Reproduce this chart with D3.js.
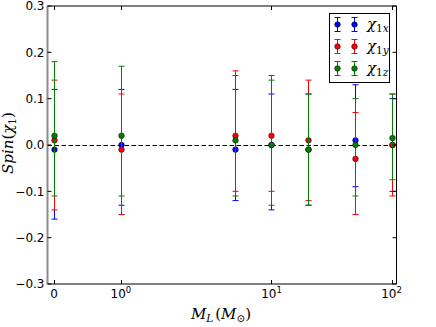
<!DOCTYPE html>
<html>
<head>
<meta charset="utf-8">
</head>
<body>

<script src="https://cdn.jsdelivr.net/npm/d3@7/dist/d3.min.js" charset="utf-8"></script>
<style>
  body {
    margin: 0;
    background: #fff;
    font-family: "DejaVu Sans", sans-serif;
  }

  .tick-label {
    font-size: 12px;
    fill: #000;
  }

  .math {
    font-family: "DejaVu Serif", serif;
    font-size: 15px;
    fill: #000;
  }

</style>

<script>
  // data
  var masses = [0, 1, 5, 10, 20, 50, 100];

  var chi1x   = [-0.01, 0.00, -0.01, 0.00, -0.01, 0.01, 0.00];
  var chi1xLo = [-0.16, -0.13, -0.12, -0.14, -0.13, -0.09, -0.10];
  var chi1xHi = [0.12, 0.12, 0.12, 0.11, 0.11, 0.13, 0.10];

  var chi1y   = [0.01, -0.01, 0.02, 0.02, 0.01, -0.03, 0.00];
  var chi1yLo = [-0.14, -0.15, -0.10, -0.10, -0.12, -0.15, -0.11];
  var chi1yHi = [0.14, 0.11, 0.16, 0.15, 0.14, 0.07, 0.11];

  var chi1z   = [0.02, 0.02, 0.01, 0.00, -0.01, 0.00, 0.015];
  var chi1zLo = [-0.11, -0.11, -0.11, -0.13, -0.13, -0.11, -0.075];
  var chi1zHi = [0.18, 0.17, 0.15, 0.14, 0.11, 0.10, 0.11];

  var xTicks = [0, 1, 10, 100];
  var xTickExp = ["", "0", "1", "2"];
  var yTicks = [-0.3, -0.2, -0.1, 0.0, 0.1, 0.2, 0.3];

  var series = [
    {sub: "x", color: "#0000ff", y: chi1x, lo: chi1xLo, hi: chi1xHi},
    {sub: "y", color: "#ff0000", y: chi1y, lo: chi1yLo, hi: chi1yHi},
    {sub: "z", color: "#008000", y: chi1z, lo: chi1zLo, hi: chi1zHi}
  ];

  var W = 436, H = 327;
  var pl = 47.5, pr = 396.5, pt = 6, pb = 284;

  // symlog like matplotlib: linthresh 2, linscale 1
  var linthresh = 2, adj = 1 / (1 - 1 / 10);
  function symT(v) {
    var a = Math.abs(v);
    if (a <= linthresh) return v * adj;
    return Math.sign(v) * linthresh * (adj + Math.log10(a / linthresh));
  }

  var xs = d3.scaleLinear()
      .domain([symT(-0.1), symT(110)])
      .range([pl, pr]);
  var x = function(v) { return xs(symT(v)); };
  // pixel-snapped x for the thin vertical strokes
  var xp = function(v) { return Math.round(x(v)) + 0.5; };

  var y = d3.scaleLinear()
      .domain([-0.3, 0.3])
      .range([pb, pt]);

  var svg = d3.select("body").append("svg")
      .attr("width", W)
      .attr("height", H);

  // zero line
  svg.append("line")
      .attr("x1", pl).attr("x2", pr)
      .attr("y1", y(0) + 0.5).attr("y2", y(0) + 0.5)
      .attr("stroke", "#000")
      .attr("stroke-width", 1)
      .attr("stroke-dasharray", "4.5,2.5");

  // error bars + markers, one series after another
  series.forEach(function(s) {
    var g = svg.append("g");
    var idx = d3.range(masses.length);

    g.selectAll(".bar").data(idx).enter().append("line")
        .attr("x1", i => xp(masses[i])).attr("x2", i => xp(masses[i]))
        .attr("y1", i => y(s.lo[i])).attr("y2", i => y(s.hi[i]))
        .attr("stroke", s.color).attr("stroke-width", 1);

    ["lo", "hi"].forEach(function(k) {
      g.selectAll(".cap-" + k).data(idx).enter().append("line")
          .attr("x1", i => xp(masses[i]) - 3).attr("x2", i => xp(masses[i]) + 3)
          .attr("y1", i => y(s[k][i])).attr("y2", i => y(s[k][i]))
          .attr("stroke", s.color).attr("stroke-width", 1);
    });

    g.selectAll("circle").data(idx).enter().append("circle")
        .attr("cx", i => xp(masses[i]))
        .attr("cy", i => y(s.y[i]))
        .attr("r", 2.8)
        .attr("fill", s.color)
        .attr("stroke", "#000")
        .attr("stroke-width", 0.5);
  });

  // frame
  svg.append("line")
      .attr("x1", pl).attr("x2", pl).attr("y1", pt).attr("y2", pb)
      .attr("stroke", "#8c8c8c").attr("stroke-width", 2);
  svg.append("path")
      .attr("d", `M${pl},${pt}H${pr}V${pb}H${pl}`)
      .attr("fill", "none").attr("stroke", "#000").attr("stroke-width", 1);

  // y ticks, inward on both sides
  var yt = svg.append("g");
  yTicks.forEach(function(t) {
    yt.append("line").attr("x1", pl).attr("x2", pl + 4)
        .attr("y1", y(t)).attr("y2", y(t)).attr("stroke", "#000");
    yt.append("line").attr("x1", pr - 4).attr("x2", pr)
        .attr("y1", y(t)).attr("y2", y(t)).attr("stroke", "#000");
    yt.append("text").attr("class", "tick-label")
        .attr("x", pl - 3).attr("y", y(t))
        .attr("text-anchor", "end")
        .attr("dy", "0.36em")
        .text((t < 0 ? "\u2212" : "") + Math.abs(t).toFixed(1));
  });

  // x ticks
  var xt = svg.append("g");
  xTicks.forEach(function(t, i) {
    xt.append("line").attr("x1", xp(t)).attr("x2", xp(t))
        .attr("y1", pb).attr("y2", pb - 4).attr("stroke", "#000");
    xt.append("line").attr("x1", xp(t)).attr("x2", xp(t))
        .attr("y1", pt).attr("y2", pt + 4).attr("stroke", "#000");
    var lab = xt.append("text").attr("class", "tick-label")
        .attr("x", x(t)).attr("y", 298)
        .attr("text-anchor", "middle");
    if (t === 0) {
      lab.text("0");
    } else {
      lab.append("tspan").text("10");
      lab.append("tspan").attr("dy", -5).attr("font-size", "8.5px").text(xTickExp[i]);
    }
  });

  // axis labels
  var xl = svg.append("text").attr("class", "math")
      .attr("x", 221).attr("y", 319).attr("text-anchor", "middle");
  xl.append("tspan").attr("font-style", "italic").text("M");
  xl.append("tspan").attr("font-style", "italic").attr("font-size", "10.5px").attr("dy", 3).text("L");
  xl.append("tspan").attr("dy", -3).attr("dx", 2).text("(");
  xl.append("tspan").attr("font-style", "italic").text("M");
  xl.append("tspan").attr("font-size", "10.5px").attr("dy", 3).text("\u2299");
  xl.append("tspan").attr("dy", -3).text(")");

  var yl = svg.append("text").attr("class", "math")
      .attr("transform", "translate(13,143) rotate(-90)")
      .attr("text-anchor", "middle");
  yl.append("tspan").attr("font-style", "italic").text("Spin");
  yl.append("tspan").text("(");
  yl.append("tspan").attr("font-style", "italic").text("\u03c7");
  yl.append("tspan").attr("font-size", "10.5px").attr("dy", 3).text("1");
  yl.append("tspan").attr("dy", -3).text(")");

  // legend
  var lg = svg.append("g");
  lg.append("rect")
      .attr("x", 329.5).attr("y", 13.5).attr("width", 60).attr("height", 69)
      .attr("fill", "#fff").attr("stroke", "#000").attr("stroke-width", 1);
  var rowY = [24.5, 46.5, 68.5];
  series.forEach(function(s, i) {
    [337.5, 354.5].forEach(function(mx) {
      lg.append("line").attr("x1", mx).attr("x2", mx)
          .attr("y1", rowY[i] - 7).attr("y2", rowY[i] + 7)
          .attr("stroke", s.color);
      [-7, 7].forEach(function(dy) {
        lg.append("line").attr("x1", mx - 3).attr("x2", mx + 3)
            .attr("y1", rowY[i] + dy).attr("y2", rowY[i] + dy)
            .attr("stroke", s.color);
      });
      lg.append("circle").attr("cx", mx).attr("cy", rowY[i]).attr("r", 2.8)
          .attr("fill", s.color).attr("stroke", "#000").attr("stroke-width", 0.5);
    });
    var t = lg.append("text").attr("class", "math")
        .attr("x", 367).attr("y", rowY[i] + 4);
    t.append("tspan").attr("font-style", "italic").text("\u03c7");
    t.append("tspan").attr("font-size", "10.5px").attr("dy", 3).text("1");
    t.append("tspan").attr("font-size", "10.5px").attr("font-style", "italic").text(s.sub);
  });

</script>
</body>
</html>
